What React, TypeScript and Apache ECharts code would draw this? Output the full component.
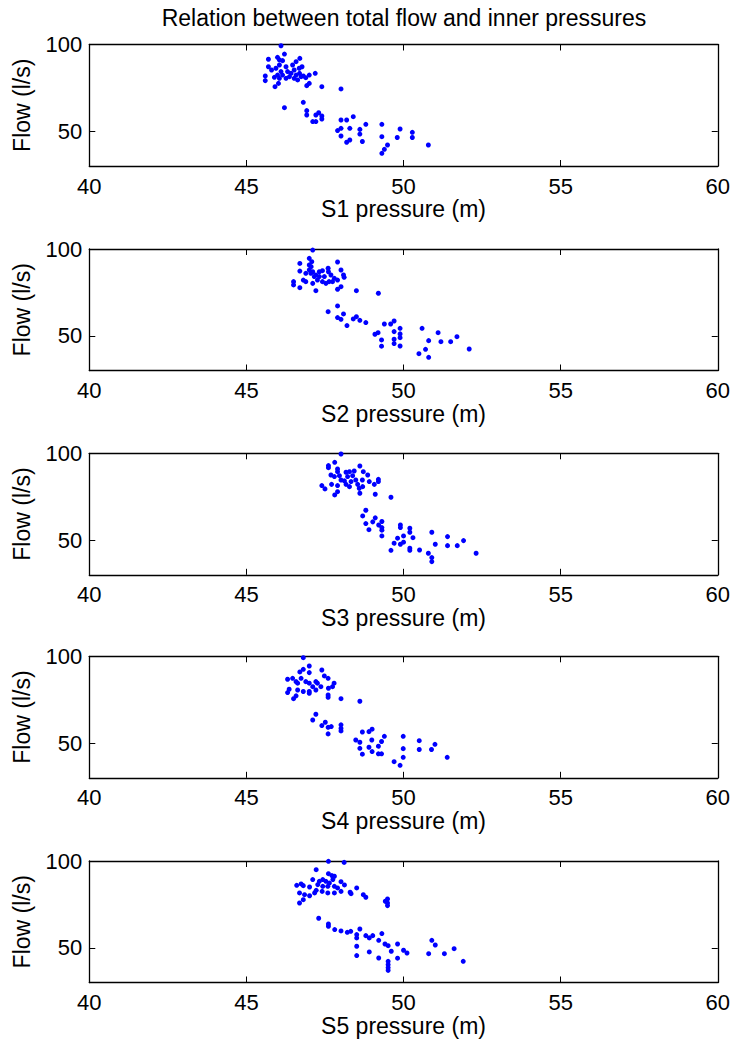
import React, { useEffect, useRef } from "react";
import * as echarts from "echarts";

const titleText = "Relation between total flow and inner pressures";
const xTicks = [40, 45, 50, 55, 60];
const yTicks = [50, 100];
const axisNames = ["S1 pressure (m)", "S2 pressure (m)", "S3 pressure (m)", "S4 pressure (m)", "S5 pressure (m)"];
const yName = "Flow (l/s)";

// [pressure (m), flow (l/s)]
const s1Points = [
  [46.10,99.3],[46.21,94.5],[45.70,91.5],[45.99,92.6],[46.15,90.7],[46.70,92.0],[45.70,87.2],[45.60,81.9],[45.60,79.2],[45.91,75.7],
  [46.02,77.6],[45.89,81.1],[45.94,86.3],[46.05,88.2],[46.10,84.4],[46.26,87.2],[46.31,84.4],[46.37,81.5],[46.47,88.2],[46.52,85.3],
  [46.58,82.4],[46.63,79.6],[46.69,83.4],[46.77,87.2],[46.81,81.9],[46.89,80.9],[47.00,82.4],[47.19,83.4],[47.00,77.6],[46.92,76.3],
  [47.40,75.7],[48.01,74.4],[46.21,63.6],[46.81,66.7],[46.92,61.9],[46.92,59.4],[47.21,59.4],[47.30,60.7],[47.40,58.8],[47.40,57.1],
  [47.11,55.6],[47.21,55.6],[48.01,56.5],[48.19,56.5],[48.40,58.4],[48.80,54.0],[49.31,54.0],[48.01,51.7],[47.90,50.4],[48.29,51.7],
  [48.61,51.1],[48.61,48.4],[48.01,47.3],[48.29,45.0],[48.19,43.7],[48.69,44.1],[49.31,46.9],[49.49,42.1],[49.39,39.6],[49.31,37.3],
  [49.89,51.3],[50.28,49.4],[50.28,46.4],[49.80,46.4],[50.79,42.1],[45.80,85.3],[45.99,82.4],[46.05,80.5],[46.15,82.4],[46.26,80.5],
  [46.42,83.4],[46.52,80.5],[46.68,86.3],[46.05,91.1],[46.58,90.1],[46.74,81.5]
];

const s2Points = [
  [47.11,99.4],[47.00,94.6],[46.70,91.7],[47.08,92.7],[47.90,92.5],[47.00,90.8],[47.06,89.8],[47.00,87.9],[46.70,87.3],[46.89,86.0],
  [47.11,86.9],[47.21,85.0],[47.32,86.9],[47.42,87.5],[47.60,88.9],[47.61,86.9],[48.01,87.9],[48.09,85.0],[48.11,83.7],[47.69,85.0],
  [47.80,83.1],[47.90,82.1],[47.63,81.2],[47.53,80.2],[47.42,81.2],[47.26,82.1],[47.11,80.2],[46.81,82.1],[46.89,81.2],[46.50,81.2],
  [46.50,79.3],[46.70,77.7],[47.21,76.0],[47.90,76.8],[48.01,78.3],[48.50,76.0],[49.20,74.5],[47.60,63.9],[47.90,67.2],[48.09,62.6],
  [47.90,60.5],[48.01,59.5],[48.20,55.9],[48.40,59.7],[48.50,61.0],[48.61,58.9],[48.80,57.6],[49.39,56.8],[49.59,56.8],[49.70,58.5],
  [49.89,54.3],[49.70,52.4],[49.89,51.1],[49.89,48.9],[49.19,51.8],[49.09,50.9],[49.30,47.6],[49.30,44.0],[49.70,48.0],[49.70,45.5],
  [49.89,44.1],[50.59,54.3],[51.10,51.8],[50.80,47.2],[51.19,46.6],[51.50,46.6],[51.70,49.5],[52.09,42.4],[50.49,39.7],[50.70,42.2],
  [50.80,37.6],[47.16,84.1],[47.32,84.1],[47.48,84.1],[47.05,86.0],[47.74,81.2]
];

const s3Points = [
  [48.01,99.6],[47.81,94.8],[47.61,92.9],[47.61,91.7],[47.90,91.0],[47.90,89.4],[48.61,92.7],[47.69,87.5],[47.80,86.6],[47.96,87.1],
  [48.17,89.1],[48.28,89.4],[48.43,89.8],[48.22,86.6],[48.38,87.1],[48.01,84.6],[48.12,84.1],[48.17,82.1],[48.28,80.8],[48.33,83.7],
  [48.48,84.6],[48.54,82.1],[48.69,84.6],[48.72,89.4],[48.86,87.5],[48.91,83.7],[49.07,82.1],[49.20,85.0],[49.20,83.7],[48.70,80.8],
  [48.59,79.8],[47.90,81.4],[47.71,82.1],[47.40,81.4],[47.50,79.5],[47.90,77.9],[47.81,76.0],[48.61,77.0],[49.10,76.4],[49.60,74.7],
  [48.80,67.2],[48.70,63.9],[48.80,59.5],[48.90,56.0],[49.02,60.5],[49.10,62.8],[49.21,58.7],[49.31,60.7],[49.31,57.2],[49.31,55.7],
  [49.31,52.4],[49.90,58.7],[49.90,57.2],[50.20,56.8],[50.20,54.5],[49.81,51.1],[50.00,52.4],[50.30,51.4],[49.70,48.2],[49.90,47.6],
  [50.00,48.8],[49.60,44.1],[50.20,45.3],[50.20,44.1],[50.51,44.3],[50.79,42.4],[50.90,39.9],[50.90,37.6],[50.90,54.5],[51.01,47.6],
  [51.40,52.0],[51.40,46.8],[51.71,46.8],[51.91,49.7],[52.31,42.4]
];

const s4Points = [
  [46.81,99.2],[47.00,94.4],[46.81,92.5],[46.70,91.0],[47.00,90.6],[47.40,92.1],[47.48,88.7],[47.60,87.3],[47.79,84.5],[47.74,82.5],
  [47.61,81.6],[46.31,86.8],[46.47,87.3],[46.58,85.4],[46.63,84.5],[46.74,87.3],[46.89,85.4],[47.00,84.5],[47.11,82.5],[47.21,85.4],
  [47.26,84.5],[47.37,82.5],[47.21,80.6],[47.00,79.7],[47.00,78.7],[46.81,79.7],[46.63,80.6],[46.36,81.0],[46.31,79.1],[46.58,77.2],
  [46.50,75.6],[47.60,77.7],[47.60,76.4],[48.01,75.6],[48.61,74.1],[47.21,66.6],[47.11,63.3],[47.51,62.0],[47.40,60.1],[47.60,59.1],
  [47.70,59.5],[47.60,55.3],[48.01,60.5],[48.01,58.5],[48.01,57.0],[48.69,56.4],[48.90,56.6],[49.00,58.0],[49.39,53.9],[48.48,51.8],
  [48.61,50.5],[48.99,51.8],[49.30,50.9],[49.20,48.2],[48.90,47.6],[48.61,47.0],[49.00,45.1],[49.20,43.8],[49.30,43.8],[48.69,43.6],
  [49.99,53.9],[49.99,46.8],[49.99,41.8],[49.70,39.3],[49.89,37.2],[50.50,51.4],[50.50,46.3],[50.89,46.3],[51.00,49.3],[51.39,41.8]
];

const s5Points = [
  [47.61,99.8],[48.11,99.2],[47.22,95.0],[47.61,92.7],[47.72,91.6],[47.80,91.2],[47.11,89.3],[47.32,88.3],[47.43,89.3],[47.53,88.3],
  [47.64,87.3],[47.75,89.3],[48.01,88.1],[46.60,86.0],[46.74,86.8],[46.81,85.8],[47.01,85.0],[47.27,86.4],[47.43,85.4],[47.59,85.4],
  [47.80,85.4],[47.90,84.5],[48.12,86.2],[48.51,84.5],[46.69,81.6],[46.85,80.6],[47.01,80.0],[47.17,81.6],[47.22,83.1],[47.41,82.5],
  [47.59,81.6],[47.80,81.6],[48.01,82.5],[48.30,82.0],[48.33,81.2],[48.72,80.6],[48.80,79.1],[46.81,77.7],[46.69,75.8],[49.49,78.1],
  [49.42,76.8],[49.49,75.8],[49.49,74.3],[47.30,67.0],[47.61,63.7],[47.61,62.4],[47.81,60.5],[48.01,59.7],[48.21,58.9],[48.32,59.5],
  [48.61,60.8],[48.51,57.6],[48.51,55.7],[48.80,57.0],[48.91,55.7],[49.02,57.0],[49.21,54.3],[49.31,58.2],[49.41,52.2],[49.51,51.2],
  [49.81,52.2],[48.51,50.9],[49.61,48.0],[50.00,48.6],[50.11,47.0],[48.91,47.6],[48.51,45.5],[49.21,44.1],[49.81,44.0],[49.51,42.2],
  [49.51,40.3],[49.51,38.6],[49.51,37.0],[50.90,54.3],[51.01,51.6],[50.80,46.6],[51.30,46.6],[51.61,49.5],[51.90,42.2]
];

const allPoints = [s1Points, s2Points, s3Points, s4Points, s5Points];

const FONT = "'Liberation Sans', Arial, Helvetica, sans-serif";

export default function App() {
  const ref = useRef<HTMLDivElement>(null);
  useEffect(() => {
    if (!ref.current) return;
    const chart = echarts.init(ref.current, undefined, { renderer: "svg" });
    const tops = [44.5, 249, 453.3, 656.3, 861];
    const gridLeft = 89.3;
    const gridWidth = 629.7;
    const gridHeight = 121.5;
    const lineStyle = { color: "#000", width: 1.3 };
    const grid: any[] = [];
    const xAxis: any[] = [];
    const yAxis: any[] = [];
    const series: any[] = [];
    allPoints.forEach((pts, i) => {
      grid.push({ left: gridLeft, top: tops[i], width: gridWidth, height: gridHeight, containLabel: false });
      xAxis.push({
        type: "value", gridIndex: i, position: "bottom", min: xTicks[0], max: xTicks[xTicks.length - 1], interval: 5,
        axisLine: { show: true, lineStyle }, axisTick: { show: true, inside: true, length: 6, lineStyle: { color: "#000", width: 1 } },
        axisLabel: { show: true, color: "#000", fontSize: 22, fontFamily: FONT, margin: 9 },
        splitLine: { show: false },
        name: axisNames[i], nameLocation: "middle", nameGap: 31,
        nameTextStyle: { color: "#000", fontSize: 23, fontFamily: FONT },
      });
      xAxis.push({
        type: "value", gridIndex: i, position: "top", min: xTicks[0], max: xTicks[xTicks.length - 1], interval: 5,
        axisLine: { show: true, lineStyle }, axisTick: { show: true, inside: true, length: 6, lineStyle: { color: "#000", width: 1 } },
        axisLabel: { show: false }, splitLine: { show: false },
      });
      yAxis.push({
        type: "value", gridIndex: i, position: "left", min: 30, max: 100,
        axisLine: { show: true, lineStyle },
        axisTick: { show: true, inside: true, length: 6, customValues: yTicks, lineStyle: { color: "#000", width: 1 } },
        axisLabel: { show: true, color: "#000", fontSize: 22, fontFamily: FONT, margin: 7, customValues: yTicks },
        splitLine: { show: false },
        name: yName, nameLocation: "middle", nameGap: 56, nameRotate: 90,
        nameTextStyle: { color: "#000", fontSize: 23, fontFamily: FONT },
      });
      yAxis.push({
        type: "value", gridIndex: i, position: "right", min: 30, max: 100,
        axisLine: { show: true, lineStyle },
        axisTick: { show: true, inside: true, length: 6, customValues: yTicks, lineStyle: { color: "#000", width: 1 } },
        axisLabel: { show: false, customValues: yTicks }, splitLine: { show: false },
      });
      series.push({
        type: "scatter", xAxisIndex: 2 * i, yAxisIndex: 2 * i, data: pts,
        symbol: "circle", symbolSize: 5, itemStyle: { color: "#0000ff", opacity: 1 },
      });
    });
    chart.setOption({
      animation: false,
      backgroundColor: "#fff",
      grid, xAxis, yAxis, series,
      graphic: [{
        type: "text", x: 404, y: 18,
        style: { text: titleText, fontSize: 23, fontFamily: FONT, fill: "#000", align: "center", verticalAlign: "middle" },
      }],
    });
    return () => chart.dispose();
  }, []);
  return <div ref={ref} style={{ position: "absolute", left: 0, top: 0, width: 733, height: 1045 }} />;
}
